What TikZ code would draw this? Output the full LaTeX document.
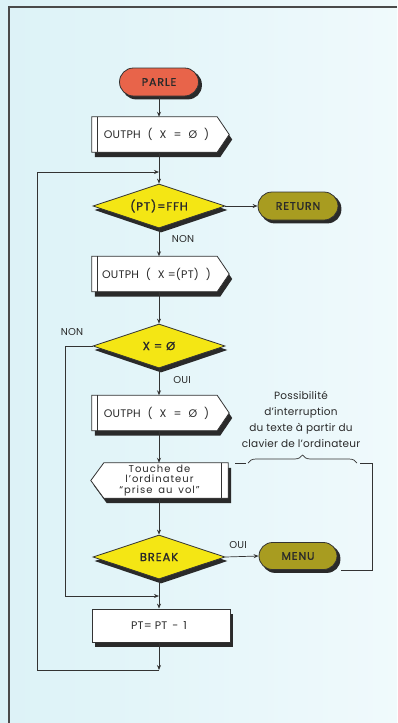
\documentclass[tikz,border=0pt]{standalone}
\usepackage{fontspec}
\setmainfont{Poppins}
\newfontfamily\boxfont{Poppins}[LetterSpace=2]
\newfontfamily\medfont{Poppins}[FakeBold=1.2, LetterSpace=8]
\newfontfamily\lcfont{Poppins}[LetterSpace=10, WordSpace=1.6]
\newfontfamily\notefont{Poppins}[LetterSpace=2]
\newcommand\gp{\hspace{7pt}}
\usetikzlibrary{shapes.geometric,arrows.meta,decorations.pathreplacing}
\pgfdeclarelayer{bglayer}
\pgfdeclarelayer{shadowlayer}
\pgfdeclarelayer{shapelayer}
\pgfsetlayers{bglayer,shadowlayer,shapelayer,main}
\definecolor{bgl}{HTML}{DCF2F7}
\definecolor{bgr}{HTML}{F0FAFC}
\definecolor{framec}{HTML}{4A4A4A}
\definecolor{linec}{HTML}{333333}
\definecolor{shadowc}{HTML}{2A2A2A}
\definecolor{redc}{HTML}{E8644A}
\definecolor{yelc}{HTML}{F4E614}
\definecolor{olivec}{HTML}{A89C20}
\definecolor{txtc}{HTML}{2A2A2A}
\begin{document}
\begin{tikzpicture}[x=1pt,y=-1pt,
  term/.style={rectangle, rounded corners=14pt, draw=linec, line width=0.8pt, minimum width=79pt, minimum height=28pt, inner sep=0pt, font=\medfont\fontsize{11}{12}\selectfont, text=txtc},
  boxnode/.style={rectangle, minimum width=137pt, minimum height=35pt, inner sep=0pt, font=\boxfont\fontsize{11}{12}\selectfont, text=txtc},
  boxdraw/.style={draw=linec, line width=0.8pt, fill=white},
  procbox/.style={rectangle, draw=linec, line width=0.8pt, fill=white, minimum width=138pt, minimum height=33pt, inner sep=0pt, font=\boxfont\fontsize{11}{12}\selectfont, text=txtc},
  dec/.style={diamond, aspect=3, draw=linec, line width=0.8pt, fill=yelc, minimum width=132pt, minimum height=44pt, inner sep=0pt, font=\medfont\fontsize{11.5}{12}\selectfont, text=txtc},
  lbl/.style={font=\boxfont\fontsize{10}{11}\selectfont, text=txtc},
  flow/.style={draw=linec, line width=0.7pt, -{Stealth[length=5pt,width=4pt]}},
  plain/.style={draw=linec, line width=0.7pt},
  shad/.style={fill=shadowc}
]
\useasboundingbox (0,0) rectangle (397,723);
\begin{pgfonlayer}{bglayer}
\shade[left color=bgl, right color=bgr] (0,0) rectangle (397,723);
\draw[framec, line width=2pt] (397,7) -- (9,7) -- (9,723);
\end{pgfonlayer}

% nodes
\node[term, fill=redc] (parle) at (159,82) {PARLE};
\node[boxnode] (b1) at (160.5,134.5) {\hspace*{-8pt}OUTPH\gp(\gp X\gp=\gp Ø\gp)};
\node[dec] (d1) at (159,206) {(PT)=FFH};
\node[term, fill=olivec, minimum width=80pt] (ret) at (298,206) {RETURN};
\node[boxnode] (b2) at (160.5,274) {\hspace*{-8pt}OUTPH\gp(\gp X\hspace{3pt}=(PT)\gp)};
\node[dec] (d2) at (159,346) {X = Ø};
\node[boxnode] (b3) at (160.5,413) {\hspace*{-8pt}OUTPH\gp(\gp X\gp=\gp Ø\gp)};
\node[boxnode, align=center, font=\lcfont\fontsize{10}{10.5}\selectfont] (b4) at (159.5,480.5) {Touche de\\l’ordinateur\\“prise au vol”};
\node[dec] (d3) at (159,557) {BREAK};
\node[term, fill=olivec, minimum width=78pt, minimum height=27pt, rounded corners=13.5pt] (menu) at (298,556) {MENU};
\node[procbox] (pt) at (161,625.5) {\hspace*{-4pt}PT=\hspace{3pt}PT\hspace{5pt}-\hspace{5pt}1};

% pentagon outlines
\begin{pgfonlayer}{shapelayer}
\foreach \b in {b1,b2,b3}{
  \path[boxdraw] (\b.north west) -- ([xshift=-12pt]\b.north east) -- (\b.east) -- ([xshift=-12pt]\b.south east) -- (\b.south west) -- cycle;
  \draw[linec, line width=0.8pt] ([xshift=6pt]\b.north west) -- ([xshift=6pt]\b.south west);
}
\path[boxdraw] (b4.north east) -- ([xshift=13pt]b4.north west) -- (b4.west) -- ([xshift=13pt]b4.south west) -- (b4.south east) -- cycle;
\draw[linec, line width=0.8pt] ([xshift=-7pt]b4.north east) -- ([xshift=-7pt]b4.south east);
\end{pgfonlayer}

% shadows
\begin{pgfonlayer}{shadowlayer}
\begin{scope}[transform canvas={shift={(3pt,-3pt)}}]
  \foreach \t/\r in {parle/14pt,ret/14pt,menu/13.5pt}{
    \fill[shad, rounded corners=\r] (\t.north west) rectangle (\t.south east);
  }
\end{scope}
\begin{scope}[transform canvas={shift={(3pt,-5pt)}}]
  \foreach \b in {b1,b2,b3}{
    \fill[shad] (\b.north west) -- ([xshift=-12pt]\b.north east) -- (\b.east) -- ([xshift=-12pt]\b.south east) -- (\b.south west) -- cycle;
  }
  \fill[shad] (b4.north east) -- ([xshift=13pt]b4.north west) -- (b4.west) -- ([xshift=13pt]b4.south west) -- (b4.south east) -- cycle;
  \fill[shad] (pt.north west) rectangle (pt.south east);
\end{scope}
\begin{scope}[transform canvas={shift={(2pt,-4pt)}}]
  \foreach \d in {d1,d2,d3}{
    \fill[shad] (\d.north) -- (\d.east) -- (\d.south) -- (\d.west) -- cycle;
  }
\end{scope}
\end{pgfonlayer}

% coordinates
\coordinate (j1) at (159,172);
\coordinate (j2) at (159,596);
\coordinate (j3) at (159,670);
\coordinate (l1) at (37,172);
\coordinate (l2) at (37,670);
\coordinate (n1) at (65,346);
\coordinate (n2) at (65,596);
\coordinate (k1) at (341,570);
\coordinate (k2) at (372,570);
\coordinate (k3) at (372,463);
\coordinate (k4) at (360,463);
\coordinate (m1) at (235,463);
\coordinate (m2) at (246,463);
\coordinate (br1) at (248,463);
\coordinate (br2) at (357,463);

% connectors
\draw[flow] (parle.south) -- (parle.south |- b1.north);
\draw[flow] (b1.south -| d1) -- (d1.north);
\draw[flow] (d1.east) -- (ret.west);
\draw[flow] (d1.south) -- (d1.south |- b2.north);
\draw[flow] (b2.south -| d2) -- (d2.north);
\draw[flow] (d2.south) -- (d2.south |- b3.north);
\draw[flow] (b3.south -| d2) -- (b4.north -| d2);
\draw[flow] (b4.south -| d3) -- (d3.north);
\draw[flow] (d3.east) -- (menu.west);
\draw[flow] (d3.south) -- (d3.south |- pt.north);
\draw[flow] (pt.south -| d3) -- (j3);
\draw[flow] (j3) -- (l2) -- (l1) -- (j1);
\draw[flow] (d2.west) -- (n1) -- (n2) -- (j2);
\draw[plain] (k1) -- (k2) -- (k3) -- (k4);
\draw[plain] (m1) -- (m2);
\draw[plain, decorate, decoration={brace, amplitude=8pt}] (br1) -- (br2);

% labels
\node[lbl] (lnon1) at (183,239) {NON};
\node[lbl] (lnon2) at (72,332) {NON};
\node[lbl] (loui1) at (182,380) {OUI};
\node[lbl] (loui2) at (238,545) {OUI};
\node[font=\notefont\fontsize{10.5}{16}\selectfont, text=txtc, align=center] (note) at (301,419)
  {Possibilité\\d’interruption\\du texte à partir du\\clavier de l’ordinateur};
\end{tikzpicture}
\end{document}
